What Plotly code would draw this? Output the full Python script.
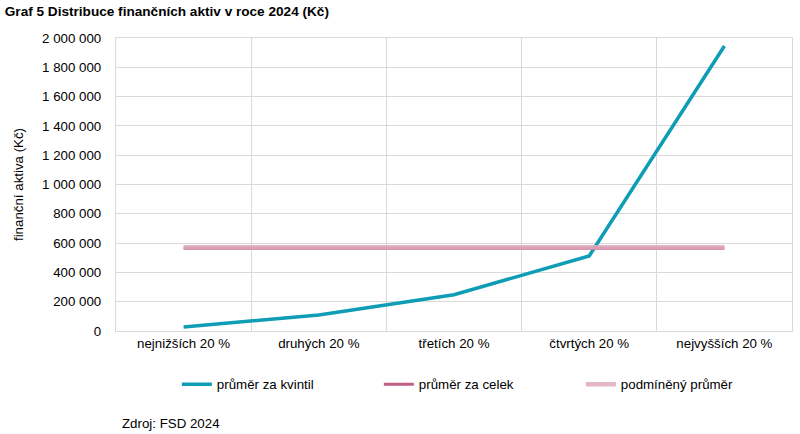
import plotly.graph_objects as go

categories = ["nejnižších 20 %", "druhých 20 %", "třetích 20 %", "čtvrtých 20 %", "nejvyšších 20 %"]
prumer_kvintil = [27000, 110000, 248000, 512000, 1945000]
prumer_celek = [565000] * 5
podmineny_prumer = [572000] * 5

fig = go.Figure()
fig.add_trace(go.Scatter(x=categories, y=prumer_kvintil, mode="lines", name="průměr za kvintil",
                         line=dict(color="#0E9DB5", width=3.5)))
fig.add_trace(go.Scatter(x=categories, y=prumer_celek, mode="lines", name="průměr za celek",
                         line=dict(color="#BE5F86", width=3)))
fig.add_trace(go.Scatter(x=categories, y=podmineny_prumer, mode="lines", name="podmíněný průměr",
                         line=dict(color="#DFA9BE", width=4.5), opacity=0.85))

font = "Liberation Sans, Arial, sans-serif"
fs = 13.3
fig.update_layout(
    width=800, height=434,
    margin=dict(l=116, r=8, t=38, b=103, autoexpand=False),
    paper_bgcolor="white", plot_bgcolor="white",
    separators=", ",
    font=dict(family=font, size=fs, color="#000"),
    showlegend=True,
    legend=dict(orientation="h", x=0.09, y=-0.13, xanchor="left", yanchor="top",
                entrywidth=157, font=dict(size=fs), traceorder="normal", itemwidth=30),
    title=dict(text="<b>Graf 5 Distribuce finančních aktiv v roce 2024 (Kč)</b>",
               x=0.006, xanchor="left", y=0.985, yanchor="top", font=dict(size=13.6, family=font)),
    xaxis=dict(type="category", range=[-0.5, 4.5], tickson="boundaries", showgrid=True, gridcolor="#D9D9D9",
               showline=True, linecolor="#D9D9D9", mirror=True, ticks="", tickfont=dict(size=fs),
               automargin=False),
    yaxis=dict(range=[0, 2000000], dtick=200000, tickformat=",d", showgrid=True, gridcolor="#D9D9D9",
               showline=True, linecolor="#D9D9D9", mirror=True, zeroline=False, ticks="",
               ticksuffix="   ", tickfont=dict(size=fs), automargin=False,
               title=dict(text="finanční aktiva (Kč)", font=dict(size=fs), standoff=15)),
)
fig.add_annotation(text="Zdroj: FSD 2024", xref="paper", yref="paper", x=0.006, y=-0.315,
                   xanchor="left", yanchor="middle", showarrow=False, font=dict(size=fs, family=font))
fig.write_html("out.html", config={"displayModeBar": False},
               post_script="document.body.style.margin='0';")
